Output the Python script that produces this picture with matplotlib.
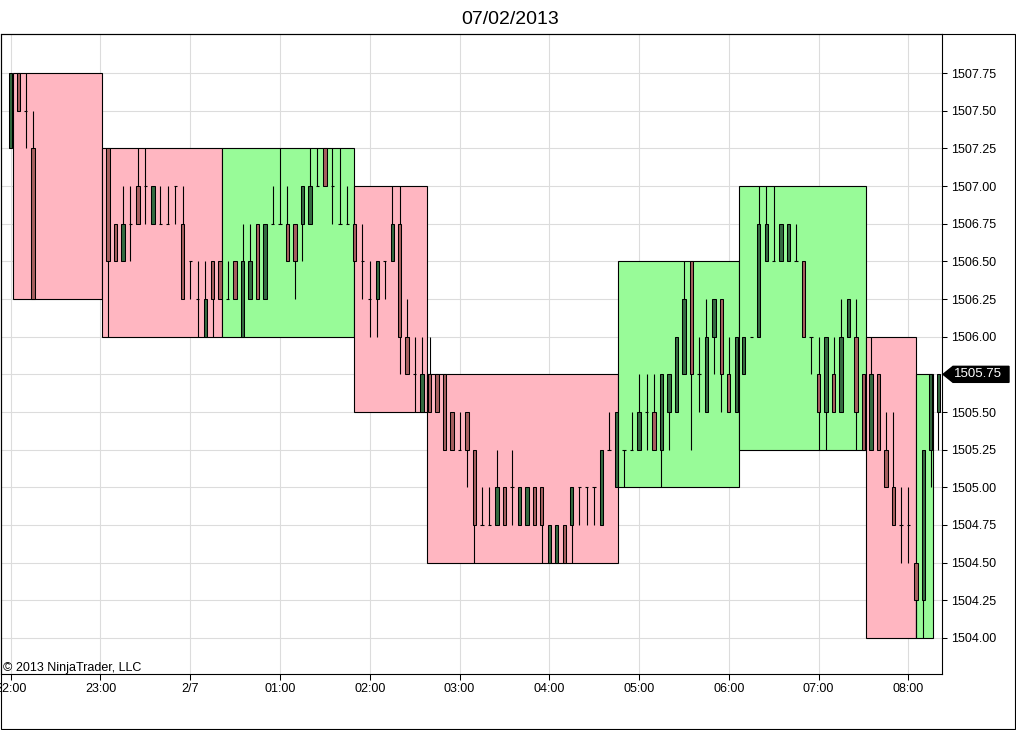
import matplotlib
matplotlib.use("Agg")
import matplotlib.pyplot as plt
from matplotlib.patches import Polygon, Rectangle
from matplotlib.transforms import IdentityTransform
import numpy as np

plt.rcParams['font.family'] = ['Liberation Sans', 'DejaVu Sans']

title = "07/02/2013"
copyright_text = "\u00a9 2013 NinjaTrader, LLC"

# 5-minute bars, slot 0 = 23:00
bar_slots = [-12, -11, -10, -9] + list(range(1, 113))

opens = [1507.25, 1507.75, 1507.5, 1507.25,
         1507.25, 1506.75, 1506.5, 1506.75, 1507.0, 1507.0, 1506.75, 1506.75, 1506.75, 1507.0,
         1506.75, 1506.5, 1506.25, 1506.0, 1506.5, 1506.5, 1506.25, 1506.5, 1506.0, 1506.25,
         1506.75, 1506.25, 1506.75, 1506.75, 1506.75, 1506.75, 1506.75, 1506.75, 1507.0, 1507.25,
         1507.0, 1506.75, 1506.75, 1506.75, 1506.5, 1506.25, 1506.25, 1506.5, 1506.5, 1506.75,
         1506.0, 1505.75, 1505.5, 1505.75, 1505.75, 1505.75, 1505.5, 1505.25, 1505.5, 1505.25,
         1504.75, 1504.75, 1504.75, 1505.0, 1505.0, 1504.75, 1504.75, 1505.0, 1505.0, 1504.5,
         1504.5, 1504.75, 1504.75, 1505.0, 1505.0, 1505.0, 1504.75, 1505.25, 1505.0, 1505.25,
         1505.25, 1505.25, 1505.5, 1505.5, 1505.25, 1505.5, 1505.5, 1505.75, 1506.5, 1505.75,
         1505.5, 1506.0, 1506.25, 1505.75, 1505.5, 1505.75, 1506.0, 1506.0, 1506.5, 1506.5,
         1506.5, 1506.5, 1506.5, 1506.5, 1506.0, 1505.75, 1505.5, 1505.75, 1505.5, 1506.0,
         1506.0, 1505.75, 1505.25, 1505.75, 1505.25, 1505.0, 1504.75, 1504.75, 1504.5, 1504.25,
         1505.25, 1505.5]

highs = [1507.75, 1507.75, 1507.75, 1507.5,
         1507.25, 1506.75, 1507.0, 1507.0, 1507.25, 1507.25, 1507.0, 1507.0, 1507.0, 1507.0,
         1507.0, 1506.5, 1506.5, 1506.5, 1506.5, 1506.5, 1506.5, 1506.5, 1506.75, 1506.75,
         1506.75, 1506.75, 1507.0, 1507.25, 1507.0, 1506.75, 1507.0, 1507.25, 1507.25, 1507.25,
         1507.25, 1507.25, 1507.0, 1506.75, 1506.75, 1506.5, 1506.5, 1506.5, 1507.0, 1507.0,
         1506.25, 1506.0, 1506.0, 1506.0, 1505.75, 1505.75, 1505.5, 1505.5, 1505.5, 1505.25,
         1505.0, 1505.0, 1505.25, 1505.0, 1505.25, 1505.0, 1505.0, 1505.0, 1505.0, 1504.75,
         1504.75, 1504.75, 1505.0, 1505.0, 1505.0, 1505.0, 1505.25, 1505.5, 1505.5, 1505.25,
         1505.5, 1505.75, 1505.75, 1505.75, 1505.75, 1505.75, 1506.0, 1506.5, 1506.5, 1506.0,
         1506.25, 1506.25, 1506.25, 1506.0, 1506.0, 1506.0, 1506.0, 1507.0, 1507.0, 1507.0,
         1506.75, 1506.75, 1506.75, 1506.5, 1506.0, 1506.0, 1506.0, 1506.0, 1506.25, 1506.25,
         1506.25, 1505.75, 1506.0, 1505.75, 1505.5, 1505.5, 1505.0, 1505.0, 1504.5, 1505.25,
         1505.75, 1505.75]

lows = [1507.25, 1507.5, 1507.25, 1506.25,
        1506.0, 1506.5, 1506.5, 1506.5, 1506.75, 1506.75, 1506.75, 1506.75, 1506.75, 1506.75,
        1506.25, 1506.25, 1506.0, 1506.0, 1506.0, 1506.25, 1506.25, 1506.25, 1506.0, 1506.25,
        1506.25, 1506.25, 1506.75, 1506.75, 1506.5, 1506.25, 1506.5, 1506.75, 1507.0, 1507.0,
        1506.75, 1506.75, 1506.75, 1506.5, 1506.25, 1506.0, 1506.0, 1506.25, 1506.5, 1505.75,
        1505.75, 1505.5, 1505.5, 1505.5, 1505.5, 1505.25, 1505.25, 1505.25, 1505.0, 1504.5,
        1504.75, 1504.75, 1504.75, 1504.75, 1504.75, 1504.75, 1504.75, 1504.75, 1504.5, 1504.5,
        1504.5, 1504.5, 1504.5, 1504.75, 1504.75, 1504.75, 1504.75, 1505.25, 1505.0, 1505.0,
        1505.25, 1505.25, 1505.25, 1505.25, 1505.0, 1505.25, 1505.5, 1505.75, 1505.25, 1505.5,
        1505.5, 1505.75, 1505.5, 1505.5, 1505.5, 1505.75, 1506.0, 1506.0, 1506.5, 1506.5,
        1506.5, 1506.5, 1506.5, 1506.0, 1505.75, 1505.25, 1505.25, 1505.5, 1505.5, 1506.0,
        1505.25, 1505.25, 1505.25, 1505.25, 1505.0, 1504.75, 1504.5, 1504.5, 1504.0, 1504.0,
        1505.0, 1505.25]

closes = [1507.75, 1507.5, 1507.5, 1506.25,
          1506.5, 1506.5, 1506.75, 1506.75, 1506.75, 1507.0, 1507.0, 1506.75, 1506.75, 1507.0,
          1506.25, 1506.5, 1506.25, 1506.25, 1506.25, 1506.25, 1506.25, 1506.25, 1506.5, 1506.5,
          1506.25, 1506.75, 1506.75, 1506.75, 1506.5, 1506.5, 1507.0, 1507.0, 1507.0, 1507.0,
          1507.0, 1506.75, 1506.75, 1506.5, 1506.5, 1506.25, 1506.5, 1506.5, 1506.75, 1506.0,
          1505.75, 1505.75, 1505.75, 1505.5, 1505.5, 1505.25, 1505.25, 1505.25, 1505.25, 1504.75,
          1504.75, 1504.75, 1505.0, 1504.75, 1505.0, 1505.0, 1505.0, 1504.75, 1504.75, 1504.75,
          1504.75, 1504.5, 1505.0, 1505.0, 1505.0, 1505.0, 1505.25, 1505.25, 1505.5, 1505.25,
          1505.25, 1505.5, 1505.5, 1505.25, 1505.75, 1505.75, 1506.0, 1506.25, 1505.75, 1505.75,
          1506.0, 1506.25, 1505.75, 1505.5, 1506.0, 1506.0, 1506.0, 1506.75, 1506.75, 1506.5,
          1506.75, 1506.75, 1506.5, 1506.0, 1506.0, 1505.5, 1506.0, 1505.5, 1506.0, 1506.25,
          1505.5, 1505.25, 1505.75, 1505.25, 1505.0, 1504.75, 1504.75, 1504.75, 1504.25, 1505.25,
          1505.75, 1505.75]

# range boxes (start / end in bar slots)
box_start = [-11.7, 0.16, 16.24, 33.86, 43.65, 69.2, 85.33, 102.3, 109.0]
box_end = [0.16, 16.24, 33.86, 43.65, 69.2, 85.33, 102.3, 109.0, 111.3]
box_high = [1507.75, 1507.25, 1507.25, 1507.0, 1505.75, 1506.5, 1507.0, 1506.0, 1505.75]
box_low = [1506.25, 1506.0, 1506.0, 1505.5, 1504.5, 1505.0, 1505.25, 1504.0, 1504.0]
box_dir = ['down', 'down', 'up', 'down', 'down', 'up', 'up', 'down', 'up']

tick_hours = [-1, 0, 1, 2, 3, 4, 5, 6, 7, 8, 9]
tick_labels = ["22:00", "23:00", "2/7", "01:00", "02:00", "03:00",
               "04:00", "05:00", "06:00", "07:00", "08:00"]
price_ticks = [1504.0, 1504.25, 1504.5, 1504.75, 1505.0, 1505.25, 1505.5, 1505.75,
               1506.0, 1506.25, 1506.5, 1506.75, 1507.0, 1507.25, 1507.5, 1507.75]

BOX_UP = '#98FB98'
BOX_DOWN = '#FFB6C1'
BODY_UP = '#336B40'
BODY_DOWN = '#A65E5E'
GRID = '#DCDCDC'

W, H = 1016, 730
fig = plt.figure(figsize=(W / 100, H / 100), dpi=100)
fig.patch.set_facecolor('white')
ax = fig.add_axes([1 / W, (H - 674) / H, (942 - 1) / W, (674 - 34) / H])
ax.set_facecolor('white')

bars_per_hour = 12
ax.set_xlim(-13.30, 112.50)
ax.set_ylim(1503.761, 1508.009)

# boxes
for s, e, hi, lo, d in zip(box_start, box_end, box_high, box_low, box_dir):
    ax.bar(s, hi - lo, bottom=lo, width=e - s, align='edge',
           color=BOX_UP if d == 'up' else BOX_DOWN, edgecolor='black',
           linewidth=0.8, zorder=2)

x = np.array(bar_slots, dtype=float)
o = np.array(opens); h = np.array(highs); l = np.array(lows); c = np.array(closes)
up = c > o
dn = c < o
dj = c == o
bw = 0.45
ax.vlines(x, l, h, color='black', linewidth=0.8, zorder=3)
ax.bar(x[up], (c - o)[up], bottom=o[up], width=bw, color=BODY_UP,
       edgecolor='black', linewidth=0.75, zorder=4)
ax.bar(x[dn], (o - c)[dn], bottom=c[dn], width=bw, color=BODY_DOWN,
       edgecolor='black', linewidth=0.75, zorder=4)
ax.hlines(o[dj], x[dj] - bw / 2, x[dj] + bw / 2, color='black', linewidth=0.8, zorder=4)

last = closes[-1]

# axes
ax.set_xticks([hr * bars_per_hour for hr in tick_hours])
ax.set_xticklabels(tick_labels)
ax.set_yticks(price_ticks)
ax.set_yticklabels(["" if p == last else f"{p:.2f}" for p in price_ticks])
ax.yaxis.tick_right()
ax.tick_params(axis='x', direction='out', length=4.3, width=0.75, pad=2.0,
               labelsize=9, colors='black')
ax.tick_params(axis='y', direction='out', length=3.6, width=0.75, pad=2.9,
               labelsize=9, colors='black', right=True, left=False)
ax.grid(True, color=GRID, linewidth=0.8, zorder=0)
ax.set_axisbelow(True)
for sp in ax.spines.values():
    sp.set_color('black')
    sp.set_linewidth(0.8)

ax.text(0.002, 0.0095, copyright_text, transform=ax.transAxes, fontsize=9,
        ha='left', va='center', color='black', zorder=6)

# title
fig.text(510.5 / W, 1 - 24.5 / H, title, ha='center', va='baseline', fontsize=14, color='black')

# outer frame
fig.add_artist(Rectangle((1 / W, 1 / H), (1015 - 1) / W, (696 - 1) / H,
                         transform=fig.transFigure, fill=False, edgecolor='black',
                         linewidth=0.8))

# last price marker
xr = ax.transAxes.transform((1, 0))[0]
yc = ax.transData.transform((0, last))[1]
pts = [(xr + 1, yc), (xr + 11, yc + 8), (xr + 67, yc + 8), (xr + 67, yc - 8), (xr + 11, yc - 8)]
fig.add_artist(Polygon(pts, closed=True, transform=IdentityTransform(),
                       facecolor='black', edgecolor='black', zorder=5))
fig.text(xr + 36, yc, f"{last:.2f}", transform=IdentityTransform(), color='white',
         fontsize=9.5, ha='center', va='center', zorder=6)

fig.savefig('out.png', dpi=100)
